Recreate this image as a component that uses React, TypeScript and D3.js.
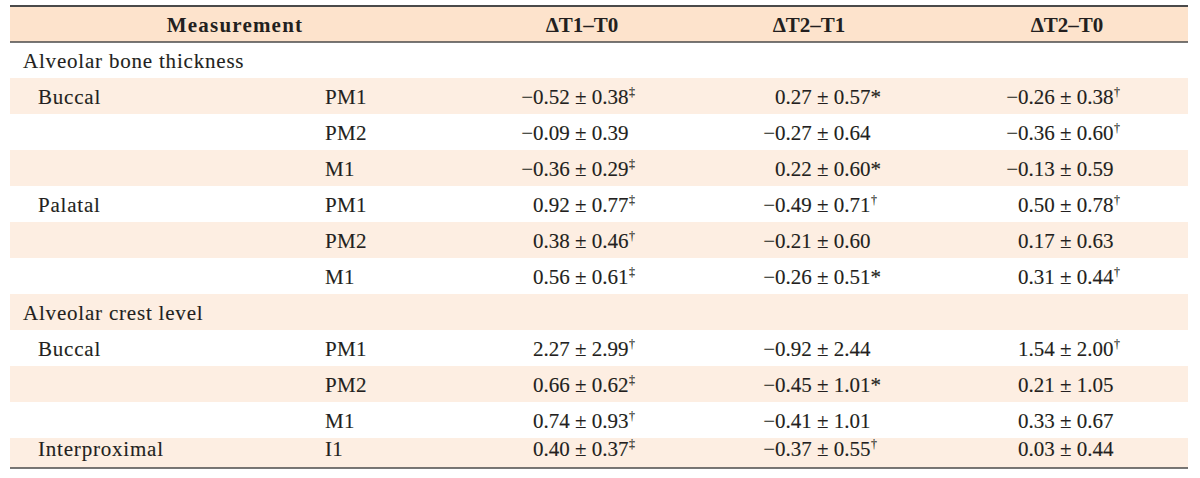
import React from "react";
import * as d3 from "d3";

// ---- Data ----
const headers = ["Measurement", "ΔT1–T0", "ΔT2–T1", "ΔT2–T0"];
const rowLabels = [
  "Alveolar bone thickness", "Buccal", "", "", "Palatal", "", "",
  "Alveolar crest level", "Buccal", "", "", "Interproximal",
];
const rowLevel = [0, 1, 1, 1, 1, 1, 1, 0, 1, 1, 1, 1];
const sites = ["", "PM1", "PM2", "M1", "PM1", "PM2", "M1", "", "PM1", "PM2", "M1", "I1"];

const t1t0Mean = [null, -0.52, -0.09, -0.36, 0.92, 0.38, 0.56, null, 2.27, 0.66, 0.74, 0.4];
const t1t0Sd = [null, 0.38, 0.39, 0.29, 0.77, 0.46, 0.61, null, 2.99, 0.62, 0.93, 0.37];
const t1t0Sig = ["", "‡", "", "‡", "‡", "†", "‡", "", "†", "‡", "†", "‡"];

const t2t1Mean = [null, 0.27, -0.27, 0.22, -0.49, -0.21, -0.26, null, -0.92, -0.45, -0.41, -0.37];
const t2t1Sd = [null, 0.57, 0.64, 0.6, 0.71, 0.6, 0.51, null, 2.44, 1.01, 1.01, 0.55];
const t2t1Sig = ["", "*", "", "*", "†", "", "*", "", "", "*", "", "†"];

const t2t0Mean = [null, -0.26, -0.36, -0.13, 0.5, 0.17, 0.31, null, 1.54, 0.21, 0.33, 0.03];
const t2t0Sd = [null, 0.38, 0.6, 0.59, 0.78, 0.63, 0.44, null, 2.0, 1.05, 0.67, 0.44];
const t2t0Sig = ["", "†", "†", "", "†", "", "†", "", "†", "", "", ""];

const columns = [
  { key: "t1t0", mean: t1t0Mean, sd: t1t0Sd, sig: t1t0Sig },
  { key: "t2t1", mean: t2t1Mean, sd: t2t1Sd, sig: t2t1Sig },
  { key: "t2t0", mean: t2t0Mean, sd: t2t0Sd, sig: t2t0Sig },
];

// ---- Layout ----
const W = 1200;
const H = 478;
const LEFT = 10;
const RIGHT = 1188;
const TOP = 6;
const HEADER_H = 36;
const ROW_H = 36;
const LAST_ROW_H = 30;
const FONT = "'Liberation Serif', 'Times New Roman', serif";
const INK = "#231f20";
const HEADER_FILL = "#fde3cc";
const ROW_FILL = "#fdeee2";
const LINE = "#4a4a4a";
const FS = 21;
const HEAVY = 0.12;

const fmt = d3.format(".2f");

export default function App() {
  const n = rowLabels.length;
  const y = d3.scaleLinear().domain([0, n - 1]).range([TOP + HEADER_H, TOP + HEADER_H + (n - 1) * ROW_H]);
  const rowH = (i: number) => (i === n - 1 ? LAST_ROW_H : ROW_H);
  const baseline = (i: number) => (i === n - 1 ? y(i) + 17.5 : y(i) + 25.5);
  const bottom = y(n - 1) + LAST_ROW_H;

  const colDigitX = d3.scaleOrdinal<string, number>().domain(columns.map((c) => c.key)).range([533, 775, 1018]);
  const headerX = d3.scaleOrdinal<string, number>().domain(headers).range([235, 582, 809, 1067]);
  const labelX = d3.scaleOrdinal<number, number>().domain([0, 1]).range([23, 38]);
  const siteX = 325;

  const body = { fontSize: FS, fill: INK, stroke: INK, strokeWidth: HEAVY };

  return (
    <svg
      width={W}
      height={H}
      viewBox={`0 0 ${W} ${H}`}
      style={{ position: "absolute", left: 0, top: 0, background: "#fff" }}
      fontFamily={FONT}
    >
      <rect x={0} y={0} width={W} height={H} fill="#fff" />
      {/* header */}
      <rect x={LEFT} y={TOP} width={RIGHT - LEFT} height={HEADER_H} fill={HEADER_FILL} />
      {/* shaded rows */}
      {rowLabels.map((_, i) =>
        i % 2 === 1 ? (
          <rect key={"bg" + i} x={LEFT} y={y(i)} width={RIGHT - LEFT} height={rowH(i)} fill={ROW_FILL} />
        ) : null
      )}
      {/* rules */}
      <line x1={LEFT} x2={RIGHT} y1={TOP} y2={TOP} stroke={LINE} strokeWidth={1.8} />
      <line x1={LEFT} x2={RIGHT} y1={TOP + HEADER_H} y2={TOP + HEADER_H} stroke={LINE} strokeWidth={1.5} />
      <line x1={LEFT} x2={RIGHT} y1={bottom} y2={bottom} stroke={LINE} strokeWidth={1.5} />

      {/* header text */}
      {headers.map((h, i) => (
        <text
          key={"h" + i}
          x={headerX(h)}
          y={TOP + 25.5}
          textAnchor="middle"
          fontWeight="bold"
          fontSize={FS}
          fill={INK}
          letterSpacing={i === 0 ? 1.2 : 0}
        >
          {h}
        </text>
      ))}

      {/* row labels */}
      {rowLabels.map((lab, i) =>
        lab ? (
          <text key={"l" + i} x={labelX(rowLevel[i])} y={baseline(i)} {...body} letterSpacing={0.8}>
            {lab}
          </text>
        ) : null
      )}
      {sites.map((s, i) =>
        s ? (
          <text key={"s" + i} x={siteX} y={baseline(i)} {...body} letterSpacing={0.3}>
            {s}
          </text>
        ) : null
      )}

      {/* values */}
      {columns.map((c) =>
        c.mean.map((m, i) => {
          if (m === null) return null;
          const x0 = colDigitX(c.key);
          const neg = m < 0;
          const sig = c.sig[i];
          const isDagger = sig === "†" || sig === "‡";
          return (
            <g key={c.key + i}>
              {neg ? (
                <text x={x0} y={baseline(i)} textAnchor="end" {...body}>
                  {"−"}
                </text>
              ) : null}
              <text x={x0} y={baseline(i)} {...body}>
                {`${fmt(Math.abs(m))} ± ${fmt(c.sd[i] as number)}`}
                {sig ? (
                  isDagger ? (
                    <tspan fontSize={12} dy={-8} dx={0.5} strokeWidth={0.08}>
                      {sig}
                    </tspan>
                  ) : (
                    <tspan>{sig}</tspan>
                  )
                ) : null}
              </text>
            </g>
          );
        })
      )}
    </svg>
  );
}
